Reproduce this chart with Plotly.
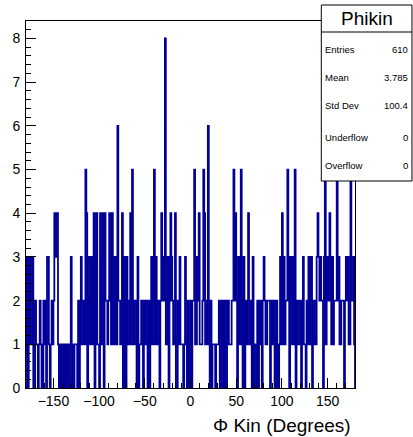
import numpy as np
import plotly.graph_objects as go

# ---- data: 360 one-degree bins from -180 to 180 ----
x_min, x_max, n_bins = -180, 180, 360
counts = [
    1,3,0,1,3,1,1,3,0,0,   # -180..-170
    2,1,1,0,1,2,1,0,0,2,
    1,2,0,3,3,1,0,1,2,1,
    2,4,3,4,4,1,0,1,0,1,
    1,0,1,0,1,0,1,0,0,3,
    1,0,0,1,1,1,0,2,0,1,
    3,1,1,2,1,5,4,0,2,3,
    1,2,3,1,4,0,3,4,1,1,
    0,4,1,3,4,0,4,2,2,1,
    2,4,2,1,4,1,3,1,3,1,
    6,2,2,1,1,4,0,3,2,0,   # -80..-70
    3,1,1,2,4,1,5,2,1,2,
    2,0,3,0,1,1,2,2,0,2,
    1,2,2,0,2,0,1,3,1,3,
    5,1,3,1,2,2,0,2,4,3,
    2,2,8,1,1,3,0,2,4,3,
    2,1,2,4,0,0,2,1,3,1,
    1,1,0,1,3,1,0,2,0,1,
    2,0,2,2,5,1,1,3,2,4,   # 0..10
    1,1,1,2,5,4,1,2,1,6,
    2,0,2,0,1,1,1,0,1,1,
    1,2,0,0,2,1,0,2,0,0,
    2,2,1,1,1,2,2,5,2,4,
    2,0,3,1,1,5,2,0,3,0,
    2,1,2,4,1,1,2,0,3,0,
    1,1,0,2,0,2,1,2,0,2,
    3,2,1,1,2,2,2,0,1,2,   # 80..90
    1,2,0,0,2,1,0,1,3,1,
    4,1,3,1,2,2,5,2,0,3,
    2,1,3,1,5,0,2,2,1,1,
    2,0,1,3,1,1,0,2,1,3,
    1,2,3,0,2,2,1,1,3,4,
    3,2,3,2,2,0,3,5,1,3,
    2,3,4,2,1,3,1,2,2,2,
    5,2,3,1,1,2,2,2,0,2,
    3,2,3,1,1,5,2,2,3,1,   # 170..180
]
stat_labels = ["Entries", "Mean", "Std Dev", "Underflow", "Overflow"]
stat_values = ["610", "3.785", "100.4", "0", "0"]
hist_name = "Phikin"
x_title = "Φ Kin (Degrees)"

edges = np.linspace(x_min, x_max, n_bins + 1)

# outline: baseline -> step through bins -> baseline
px = [edges[0]]
py = [0]
for i, c in enumerate(counts):
    px += [edges[i], edges[i + 1]]
    py += [c, c]
px.append(edges[-1]); py.append(0)

W, H = 413, 437
L, R, T, B = 23, 58, 21, 49
PW, PH = W - L - R, H - T - B

def pxx(x):
    return (x - L) / PW

def pxy(y):
    return (H - B - y) / PH

fig = go.Figure()
fig.add_trace(go.Scatter(x=px, y=py, mode="lines",
                         line=dict(color="#000099", width=1.8),
                         hoverinfo="skip", showlegend=False))

font = "Liberation Sans, Arial, Helvetica, sans-serif"
fig.update_layout(
    width=W, height=H,
    margin=dict(l=L, r=R, t=T, b=B),
    paper_bgcolor="white", plot_bgcolor="white",
    font=dict(family=font, color="black"),
    showlegend=False,
)
fig.update_xaxes(range=[x_min, x_max], showgrid=False, zeroline=False,
                 showline=True, linecolor="black", linewidth=1, mirror=True,
                 ticks="inside", ticklen=10, tickwidth=1, tickcolor="black",
                 tick0=-150, dtick=50,
                 minor=dict(ticks="inside", ticklen=5, dtick=10, tick0=0, tickcolor="black"),
                 tickfont=dict(size=14, family=font), ticklabelstandoff=0)
fig.update_yaxes(range=[0, 8.4], showgrid=False, zeroline=False,
                 showline=True, linecolor="black", linewidth=1, mirror=True,
                 ticks="inside", ticklen=10, tickwidth=1, tickcolor="black",
                 tick0=0, dtick=1,
                 minor=dict(ticks="inside", ticklen=5, dtick=0.2, tick0=0, tickcolor="black"),
                 tickfont=dict(size=14, family=font), ticklabelstandoff=2)

# x-axis title, right aligned at axis end
fig.add_annotation(text=x_title, xref="paper", yref="paper",
                   x=pxx(353), y=pxy(425), xanchor="right", yanchor="middle",
                   showarrow=False, font=dict(size=19, family=font))

# stats box
bx0, bx1, by0, by1, bsep = 321, 412.5, 5, 181, 32
fig.add_shape(type="rect", xref="paper", yref="paper",
              x0=pxx(bx0), x1=pxx(bx1), y0=pxy(by1), y1=pxy(by0),
              line=dict(color="black", width=1), fillcolor="white", layer="above")
fig.add_shape(type="line", xref="paper", yref="paper",
              x0=pxx(bx0), x1=pxx(bx1), y0=pxy(bsep), y1=pxy(bsep),
              line=dict(color="black", width=1), layer="above")
fig.add_annotation(text=hist_name, xref="paper", yref="paper",
                   x=pxx((bx0 + bx1) / 2), y=pxy(19), xanchor="center", yanchor="middle",
                   showarrow=False, font=dict(size=19, family=font))
row_y = [49, 77, 106, 137, 165]
for lab, val, ry in zip(stat_labels, stat_values, row_y):
    fig.add_annotation(text=lab, xref="paper", yref="paper",
                       x=pxx(323), y=pxy(ry), xanchor="left", yanchor="middle",
                       showarrow=False, font=dict(size=9.5, family=font))
    fig.add_annotation(text=val, xref="paper", yref="paper",
                       x=pxx(410), y=pxy(ry), xanchor="right", yanchor="middle",
                       showarrow=False, font=dict(size=9.5, family=font))

fig.write_html("out.html", config={"displayModeBar": False},
               post_script="document.body.style.margin='0';document.body.style.overflow='hidden';")
